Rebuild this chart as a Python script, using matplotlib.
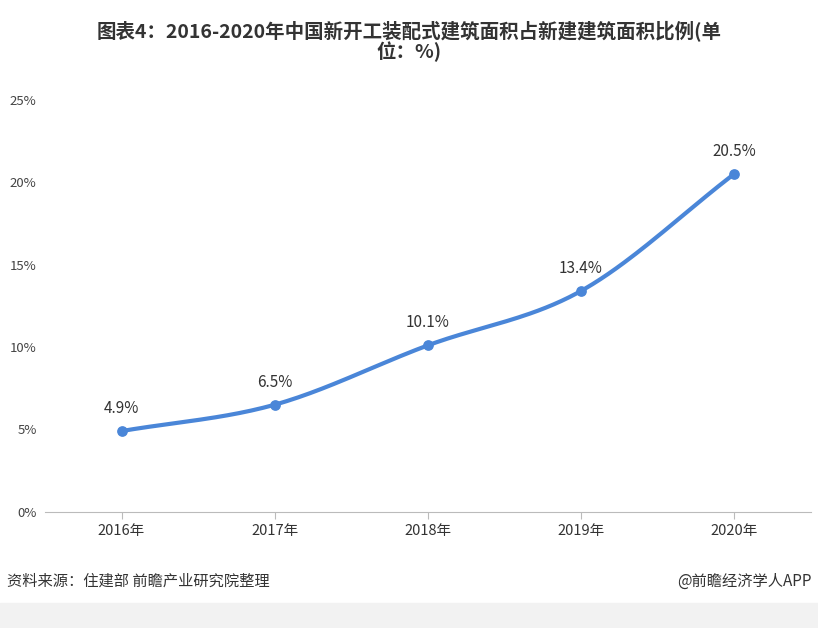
import numpy as np
import matplotlib
matplotlib.use("Agg")
import matplotlib.pyplot as plt
plt.rcParams['font.family'] = ['Noto Sans CJK SC', 'DejaVu Sans']

years = ['2016年', '2017年', '2018年', '2019年', '2020年']
values = [4.9, 6.5, 10.1, 13.4, 20.5]
labels = ['4.9%', '6.5%', '10.1%', '13.4%', '20.5%']
yticks = [0, 5, 10, 15, 20, 25]

fig = plt.figure(figsize=(8.18, 6.28), dpi=100)
ax = fig.add_axes([0.055, 0.185, 0.936, 0.656])

x = np.arange(len(values), dtype=float)
y = np.array(values)
m = np.gradient(y, x)
xs, ys = [], []
for i in range(len(x) - 1):
    t = np.linspace(0, 1, 40)
    h00 = 2*t**3 - 3*t**2 + 1; h10 = t**3 - 2*t**2 + t
    h01 = -2*t**3 + 3*t**2; h11 = t**3 - t**2
    xs.append(x[i] + t)
    ys.append(h00*y[i] + h10*m[i] + h01*y[i+1] + h11*m[i+1])
ax.plot(np.concatenate(xs), np.concatenate(ys), color='#4a86d8', lw=3, solid_capstyle='round')
ax.scatter(x, y, s=45, color='#4a86d8', zorder=3)
for xi, yi, lb in zip(x, y, labels):
    ax.annotate(lb, (xi, yi), xytext=(0, 10), textcoords='offset points',
                ha='center', va='bottom', fontsize=11, color='#333333')

ax.set_xlim(-0.5, 4.5)
ax.set_ylim(0, 25)
ax.set_xticks(x, years)
ax.set_yticks(yticks, [f'{v}%' for v in yticks])
for s in ['top', 'right', 'left']:
    ax.spines[s].set_visible(False)
ax.spines['bottom'].set_color('#bbbbbb')
ax.tick_params(axis='y', length=0, labelsize=9.5, colors='#444444', pad=6)
ax.tick_params(axis='x', length=5, labelsize=10.5, colors='#333333', color='#bbbbbb')

fig.text(0.5, 0.968, '图表4：2016-2020年中国新开工装配式建筑面积占新建建筑面积比例(单\n位：%)',
         ha='center', va='top', fontsize=14, fontweight='bold', color='#333333', linespacing=1.0)
fig.text(0.008, 0.075, '资料来源：住建部 前瞻产业研究院整理', fontsize=11, color='#333333', va='center')
fig.text(0.992, 0.075, '@前瞻经济学人APP', fontsize=11, color='#333333', va='center', ha='right')
fig.patches.append(plt.Rectangle((0, 0), 1, 0.04, transform=fig.transFigure, color='#f2f2f2', zorder=-1))
fig.savefig('out.png', dpi=100)
